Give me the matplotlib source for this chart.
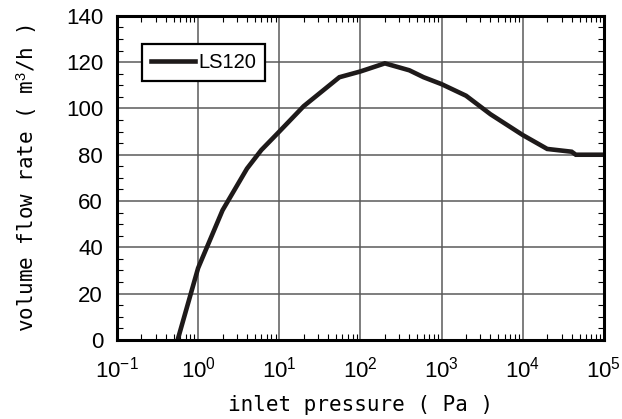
import matplotlib
matplotlib.use("Agg")
from matplotlib import pyplot as plt
from matplotlib.ticker import LogLocator, MultipleLocator, LogFormatterSciNotation, NullFormatter
import numpy as np

# 数据
pressure = [0.56, 1, 2, 4, 6, 10, 20, 55, 100, 200, 400, 600, 1000, 2000, 4000, 10000, 20000, 40000, 45000, 100000]
flow = [0, 31, 56, 74, 82, 90, 101, 113.5, 116, 119.5, 116.5, 113.5, 110.5, 105.5, 97.5, 88.5, 82.5, 81.3, 80, 80]
series_name = 'LS120'

plt.rcParams['font.family'] = ['Liberation Sans', 'DejaVu Sans']
plt.rcParams['mathtext.fontset'] = 'custom'
plt.rcParams['mathtext.rm'] = 'Liberation Sans'
plt.rcParams['mathtext.it'] = 'Liberation Sans'

fig = plt.figure(figsize=(6.22, 4.19), dpi=100)
ax = fig.add_axes([0.188, 0.189, 0.783, 0.773])

ax.plot(pressure, flow, color='#1e1a1a', lw=3.3, label=series_name, solid_joinstyle='miter')

ax.set_xscale('log')
ax.set_xlim(0.1, 1e5)
ax.set_ylim(0, 140)
ax.xaxis.set_major_locator(LogLocator(base=10, numticks=10))
ax.xaxis.set_minor_locator(LogLocator(base=10, subs=np.arange(2, 10), numticks=10))
ax.xaxis.set_major_formatter(LogFormatterSciNotation())
ax.xaxis.set_minor_formatter(NullFormatter())
ax.yaxis.set_major_locator(MultipleLocator(20))
ax.yaxis.set_minor_locator(MultipleLocator(5))

ax.grid(True, which='major', color='#5a5a5a', lw=1.1)
ax.tick_params(which='both', direction='in', top=True, right=True)
ax.tick_params(axis='y', pad=10, labelsize=16)
ax.tick_params(axis='x', pad=12, labelsize=16)
ax.tick_params(which='major', length=0)
ax.tick_params(which='minor', length=4, width=0.8)
for s in ax.spines.values():
    s.set_linewidth(2.2)

ax.set_xlabel('inlet pressure ( Pa )', family='DejaVu Sans Mono', fontsize=15, labelpad=9)
ax.set_ylabel('volume flow rate ( m$^3$/h )', family='DejaVu Sans Mono', fontsize=15, labelpad=19)

leg = ax.legend(loc='upper left', bbox_to_anchor=(0.051, 0.914), fontsize=14.5, handlelength=2.2,
                fancybox=False, framealpha=1, edgecolor='black', borderpad=0.45,
                handletextpad=0.15, borderaxespad=0)
leg.get_frame().set_linewidth(1.6)

fig.savefig('out.png', dpi=100)
